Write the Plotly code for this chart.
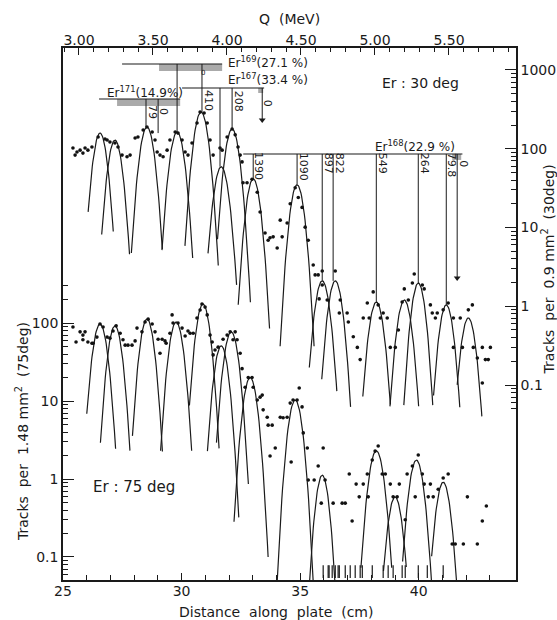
import numpy as np
import plotly.graph_objects as go

# ---------------- data ----------------
# Fitted peaks, Er 30 deg (right axis, tracks per 0.9 mm^2)
p30_center = [26.56, 27.19, 28.54, 29.81, 30.82, 31.67, 32.13, 33.02, 34.87, 35.93, 36.48, 38.21, 39.39, 39.98, 41.16, 42.09]
p30_height = [158, 129, 189, 163, 293, 59, 178, 41.5, 34.8, 2.1, 2.1, 1.13, 1.2, 1.97, 1.04, 0.71]
p30_width = [0.50, 0.51, 0.52, 0.52, 0.52, 0.53, 0.52, 0.50, 0.50, 0.52, 0.51, 0.52, 0.52, 0.49, 0.50, 0.51]
p30_depth_left = [1.0, 1.2, 1.6, 1.5, 1.7, 1.1, 1.4, 1.6, 2.05, 1.1, 1.25, 1.2, 1.35, 1.55, 1.15, 0.85]
p30_depth_right = [1.25, 1.45, 1.55, 1.6, 1.95, 1.5, 2.2, 1.9, 2.05, 1.4, 1.6, 1.3, 1.35, 1.55, 1.3, 1.25]

# Fitted peaks, Er 75 deg (left axis, tracks per 1.48 mm^2)
p75_center = [26.56, 27.19, 28.54, 29.77, 30.90, 31.67, 32.09, 32.89, 34.79, 35.93, 38.21, 39.00, 39.90, 41.03]
p75_height = [97, 92, 113, 103, 175, 51, 77, 20, 10.3, 1.12, 2.3, 0.59, 1.75, 0.91]
p75_width = [0.52, 0.50, 0.50, 0.51, 0.50, 0.50, 0.52, 0.50, 0.50, 0.46, 0.53, 0.50, 0.51, 0.50]
p75_depth_left = [1.15, 1.5, 1.5, 1.65, 1.3, 1.35, 1.42, 1.85, 2.5, 1.5, 1.5, 0.95, 1.3, 0.95]
p75_depth_right = [1.6, 1.6, 1.7, 1.65, 1.85, 2.2, 1.95, 2.3, 2.5, 1.5, 1.5, 0.9, 1.55, 1.3]

# Measured points, 30 deg
d30_x = [25.42, 25.59, 25.51, 25.72, 25.84, 25.93, 26.05, 26.22, 26.48, 26.77, 26.86, 26.98, 27.19, 27.32,
         27.49, 27.70, 27.83, 28.04, 28.16, 28.38, 28.54, 28.76, 28.88, 28.97, 29.09, 29.22, 29.39, 29.51,
         29.73, 29.85, 30.02, 30.15, 30.27, 30.44, 30.65, 30.78, 30.95, 31.08, 31.20, 31.33, 31.62, 31.71,
         31.92, 32.13, 32.26, 32.38, 32.47, 32.55, 32.59, 32.76, 32.97, 33.19, 33.31, 33.52, 33.65, 33.73,
         33.86, 34.03, 34.16, 34.24, 34.45, 34.58, 34.79, 34.92, 35.08, 35.21, 35.34,
         35.55, 35.63, 35.76, 35.93, 35.80, 35.93, 36.14, 36.48, 36.69, 36.65, 36.98, 37.03, 37.24, 37.41,
         37.53, 37.66, 37.83, 37.91, 38.08, 38.29, 38.38, 38.50, 38.67, 38.80, 39.01, 39.14, 39.30, 39.39,
         39.56, 39.73, 39.81, 40.15, 40.23, 40.49, 40.57, 40.70, 40.78, 41.03, 41.24, 41.46, 41.75, 41.46,
         41.84, 42.09, 42.26, 42.30, 42.47, 42.68, 42.81, 43.02, 42.93, 42.68]
d30_y = [102, 91, 83, 96, 88, 102, 96, 105, 141, 133, 129, 122, 118, 105,
         83, 79, 83, 137, 141, 173, 189, 163, 129, 91, 83, 79, 96, 129,
         163, 158, 129, 91, 83, 118, 212, 293, 284, 212, 129, 83, 102, 96,
         141, 178, 150, 105, 83, 68, 37, 37, 41, 28, 15.7, 8.5, 6.9, 7.4,
         7.6, 5.5, 12.4, 7.6, 11.4, 20, 32, 24, 18, 10.1, 6.9,
         3.34, 2.5, 2.5, 2.8, 1.24, 1.86, 1.2, 2.8, 1.2, 0.82, 0.82, 0.63, 0.41, 0.30,
         0.21, 0.71, 1.1, 0.71, 1.52, 1.04, 0.71, 0.82, 0.71, 0.30, 0.30, 0.5, 1.13, 1.66,
         1.2, 1.97, 2.57, 1.86, 1.66, 1.04, 0.82, 0.71, 0.82, 0.9, 1.1, 0.71, 0.71, 0.30,
         0.30, 0.9, 1.04, 0.30, 0.22, 0.30, 0.21, 0.30, 0.21, 0.106]

# Measured points, 75 deg
d75_x = [25.42, 25.55, 25.72, 25.84, 25.93, 25.84, 26.05, 26.22, 26.27, 26.43, 26.56, 26.69, 26.86, 26.98,
         27.11, 27.24, 27.41, 27.53, 27.62, 27.74, 27.91, 28.04, 28.12, 28.33, 28.46, 28.59, 28.76, 28.88,
         29.01, 29.18, 29.09, 29.30, 29.35, 29.51, 29.60, 29.64, 29.85, 30.02, 30.15, 30.27, 30.36, 30.49,
         30.65, 30.78, 30.86, 30.99, 31.08, 31.20, 31.29, 31.33, 31.41, 31.54, 31.75, 31.92, 32.05, 32.26,
         32.17, 32.34, 32.47, 32.55, 32.68, 32.81, 32.97, 33.02, 33.19, 33.31, 33.40, 33.44, 33.61, 33.65,
         33.82, 33.73, 33.95, 34.16, 34.28, 34.45, 34.62, 34.58, 34.70, 34.87, 34.96, 35.08, 35.13, 35.30,
         35.34, 35.59, 35.76, 35.97, 35.89, 36.05, 36.39, 36.77, 36.90, 37.07, 37.19, 37.36, 37.49, 37.66,
         37.83, 37.87, 38.04, 38.16, 38.29, 38.46, 38.59, 38.80, 38.92, 39.09, 39.18, 39.43, 39.51, 39.73,
         39.98, 39.85, 40.15, 40.23, 40.40, 40.49, 40.61, 40.82, 41.03, 41.24, 41.41, 41.54, 41.88, 42.05,
         42.47, 42.68, 42.85]
d75_y = [89, 57, 77, 70, 77, 61, 57, 55, 55, 66, 97, 89, 66, 64,
         79, 92, 74, 61, 52, 52, 52, 59, 86, 77, 103, 112, 97, 77,
         62, 62, 41, 59, 55, 74, 127, 100, 100, 86, 68, 79, 74, 74,
         116, 147, 175, 160, 127, 70, 57, 39, 45, 49, 62, 70, 77, 77,
         61, 61, 41, 26, 15, 20, 20, 15, 10.3, 11.2, 11.9, 7.7, 6.2, 4.9,
         4.9, 1.97, 2.5, 6.2, 6.1, 6.2, 1.65, 9.4, 10.3, 10.3, 14.7, 8.4, 3.9, 2.5,
         0.97, 0.97, 1.47, 2.5, 0.49, 0.97, 0.49, 0.49, 0.49, 1.16, 0.29, 0.86, 0.59, 0.86,
         1.16, 0.59, 1.75, 2.28, 2.65, 1.16, 1.16, 0.86, 0.59, 0.59, 0.86, 0.30, 1.16, 1.47,
         2.03, 0.59, 1.16, 0.86, 0.59, 0.86, 0.59, 0.74, 1.03, 1.16, 0.147, 0.147, 0.147, 0.59,
         0.147, 0.29, 0.45]

# Zero-count marks along the bottom (75 deg)
zero_x = [35.97, 36.18, 36.22, 36.35, 36.48, 36.60, 36.65, 36.90, 37.11, 37.32, 37.53, 37.62,
          38.04, 38.50, 38.71, 38.92, 39.30, 39.43, 39.98, 40.36, 41.03]
zero_level = 0.065

# Level markers (right-axis units): position, top (isotope bar), bottom (peak), label
lvl_x = [28.50, 29.01, 29.81, 30.86, 31.62, 32.13, 33.40, 33.02, 34.87, 35.93, 36.39, 38.21, 39.98, 41.16, 41.62]
lvl_top = [428, 428, 1191, 1191, 591, 591, 591, 85.8, 85.8, 85.8, 85.8, 85.8, 85.8, 85.8, 85.8]
lvl_bottom = [189, 158, 163, 293, 59, 178, 232, 41.5, 34.8, 2.1, 2.1, 1.13, 1.97, 1.04, 2.29]
lvl_text = ["79", "0", "", "410", "", "208", "0", "1390", "1090", "897", "822", "549", "264", "79.8", "0"]
lvl_text_y = [293, 301, 0, 404, 0, 404, 380, 60, 59, 66, 66, 66, 66, 62, 65]
lvl_arrow = [False, False, False, False, False, False, True, False, False, False, False, False, False, False, True]

# Isotope bars
iso_name = ["Er<sup>171</sup>(14.9%)", "Er<sup>169</sup>(27.1 %)", "Er<sup>167</sup>(33.4 %)", "Er<sup>168</sup>(22.9 %)"]
iso_bar_x0 = [26.52, 27.49, 30.02, 32.60]
iso_bar_x1 = [29.94, 31.71, 33.48, 41.84]
iso_bar_y = [428, 1191, 591, 85.8]
iso_shade_x0 = [27.28, 29.05, 33.23, 41.41]
iso_shade_x1 = [29.94, 31.71, 33.44, 41.79]
iso_shade_y0 = [349, 971, 510, 72]
iso_label_x = [28.45, 31.88, 31.88, 39.85]
iso_label_y = [525, 1263, 769, 108]

# Axis ticks
x_ticks = [25, 30, 35, 40]
x_minor = list(range(26, 44))
q_ticks = [3.0, 3.5, 4.0, 4.5, 5.0, 5.5]
q_labels = ["3.00", "3.50", "4.00", "4.50", "5.00", "5.50"]
q_minor = [round(3.0 + 0.1 * i, 1) for i in range(-1, 30)]
y75_ticks = [0.1, 1, 10, 100]
y75_labels = ["0.1", "1", "10", "100"]
y30_ticks = [0.1, 1, 10, 100, 1000]
y30_labels = ["0.1", "1", "10", "100", "1000"]

# ---------------- figure ----------------
LINE = "#1a1a1a"
FONT = "DejaVu Sans"


def peak_curves(centers, heights, widths, dl, dr):
    xs, ys = [], []
    for c, h, w, a, b in zip(centers, heights, widths, dl, dr):
        t = np.linspace(-np.sqrt(a), np.sqrt(b), 50)
        xs += list(c + t * w) + [None]
        ys += list(h * 10 ** (-t ** 2)) + [None]
    return xs, ys


fig = go.Figure()

cx, cy = peak_curves(p30_center, p30_height, p30_width, p30_depth_left, p30_depth_right)
fig.add_trace(go.Scatter(x=cx, y=cy, mode="lines", line=dict(color=LINE, width=1.2),
                         xaxis="x", yaxis="y2", hoverinfo="skip"))
cx, cy = peak_curves(p75_center, p75_height, p75_width, p75_depth_left, p75_depth_right)
fig.add_trace(go.Scatter(x=cx, y=cy, mode="lines", line=dict(color=LINE, width=1.2),
                         xaxis="x", yaxis="y", hoverinfo="skip"))

fig.add_trace(go.Scatter(x=d30_x, y=d30_y, mode="markers", marker=dict(color="#111", size=3.6),
                         xaxis="x", yaxis="y2"))
fig.add_trace(go.Scatter(x=d75_x, y=d75_y, mode="markers", marker=dict(color="#111", size=3.6),
                         xaxis="x", yaxis="y"))
fig.add_trace(go.Scatter(x=zero_x, y=[zero_level] * len(zero_x), mode="markers",
                         marker=dict(symbol="line-ns-open", size=9, color=LINE,
                                     line=dict(color=LINE, width=1.2)),
                         xaxis="x", yaxis="y"))

# isotope shaded blocks and bars
for i in range(len(iso_name)):
    fig.add_trace(go.Scatter(
        x=[iso_shade_x0[i], iso_shade_x1[i], iso_shade_x1[i], iso_shade_x0[i], iso_shade_x0[i]],
        y=[iso_shade_y0[i], iso_shade_y0[i], iso_bar_y[i], iso_bar_y[i], iso_shade_y0[i]],
        mode="lines", fill="toself", fillcolor="rgba(125,125,125,0.65)",
        line=dict(width=0), xaxis="x", yaxis="y2", hoverinfo="skip"))
    fig.add_trace(go.Scatter(x=[iso_bar_x0[i], iso_bar_x1[i]], y=[iso_bar_y[i], iso_bar_y[i]],
                             mode="lines", line=dict(color=LINE, width=1.1),
                             xaxis="x", yaxis="y2", hoverinfo="skip"))

# level lines
lx, ly = [], []
for x, t, b in zip(lvl_x, lvl_top, lvl_bottom):
    lx += [x, x, None]
    ly += [t, b, None]
fig.add_trace(go.Scatter(x=lx, y=ly, mode="lines", line=dict(color=LINE, width=1.0),
                         xaxis="x", yaxis="y2", hoverinfo="skip"))
ax_ = [x for x, a in zip(lvl_x, lvl_arrow) if a]
ay_ = [b for b, a in zip(lvl_bottom, lvl_arrow) if a]
fig.add_trace(go.Scatter(x=ax_, y=ay_, mode="markers",
                         marker=dict(symbol="triangle-down", size=6, color=LINE),
                         xaxis="x", yaxis="y2", hoverinfo="skip"))

# dummy trace so the top Q axis is drawn
fig.add_trace(go.Scatter(x=[q_ticks[0]], y=[1], mode="markers", marker=dict(opacity=0),
                         xaxis="x2", yaxis="y", hoverinfo="skip"))

annotations = []
for x, txt, yv in zip(lvl_x, lvl_text, lvl_text_y):
    if txt:
        annotations.append(dict(x=x, y=np.log10(yv), xref="x", yref="y2", text=txt, showarrow=False,
                                textangle=90, xshift=6, xanchor="center", yanchor="middle",
                                font=dict(size=11, color=LINE, family=FONT)))
annotations.append(dict(x=30.91, y=np.log10(916), xref="x", yref="y2", text="0", showarrow=False,
                        xanchor="center", yanchor="middle",
                        font=dict(size=7, color=LINE, family=FONT)))
anchors = ["center", "left", "left", "center"]
for i in range(len(iso_name)):
    annotations.append(dict(x=iso_label_x[i], y=np.log10(iso_label_y[i]), xref="x", yref="y2",
                            text=iso_name[i], showarrow=False, xanchor=anchors[i], yanchor="middle",
                            font=dict(size=12, color=LINE, family=FONT)))


def paper_text(x, y, text, size, angle=0):
    return dict(x=x, y=y, xref="paper", yref="paper", text=text, showarrow=False, textangle=angle,
                xanchor="center", yanchor="middle", font=dict(size=size, color=LINE, family=FONT))


annotations += [
    paper_text(0.501, 1.0545, "Q  (MeV)", 14),
    paper_text(0.47, -0.06, "Distance  along  plate  (cm)", 14),
    paper_text(-0.0905, 0.278, "Tracks  per  1.48 mm<sup>2</sup>  (75deg)", 14, -90),
    paper_text(1.07, 0.583, "Tracks  per  0.9 mm<sup>2</sup>  (30deg)", 14, -90),
    paper_text(0.79, 0.934, "Er : 30 deg", 14),
    paper_text(0.157, 0.175, "Er : 75 deg", 15),
]

axis_common = dict(showgrid=False, zeroline=False, showline=True, linecolor=LINE, linewidth=1.5,
                   automargin=False,
                   ticks="inside", tickcolor=LINE, tickfont=dict(size=14, color=LINE, family=FONT))

fig.update_layout(
    width=557, height=620, autosize=False,
    margin=dict(l=63, r=41, t=48, b=40),
    paper_bgcolor="white", plot_bgcolor="white",
    showlegend=False,
    font=dict(family=FONT, color=LINE),
    xaxis=dict(axis_common, range=[25, 44.1], tickmode="array", tickvals=x_ticks,
               ticktext=[str(v) for v in x_ticks], ticklen=7, tickwidth=1.2, ticklabelstandoff=-3,
               minor=dict(tickvals=x_minor, ticks="inside", ticklen=5, tickcolor=LINE, tickwidth=1.0)),
    xaxis2=dict(axis_common, overlaying="x", side="top", anchor="y", range=[2.892, 5.953],
                tickmode="array", tickvals=q_ticks, ticktext=q_labels, ticklen=7, tickwidth=1.2,
                ticklabelstandoff=-4,
                minor=dict(tickvals=q_minor, ticks="inside", ticklen=4, tickcolor=LINE, tickwidth=1.0)),
    yaxis=dict(axis_common, type="log", range=[-1.295, 5.526], tickmode="array", tickvals=y75_ticks,
               ticktext=y75_labels, ticklen=11, tickwidth=1.0,
               minor=dict(tickvals=[m * 10 ** e for e in range(-2, 3) for m in range(2, 10)
                                    if 0.045 < m * 10 ** e < 350],
                          ticks="inside", ticklen=5, tickcolor=LINE, tickwidth=1.0)),
    yaxis2=dict(axis_common, type="log", overlaying="y", side="right", anchor="x",
                range=[-3.476, 3.279], tickmode="array", tickvals=y30_ticks,
                ticktext=y30_labels, ticklen=11, tickwidth=1.0,
                minor=dict(tickvals=[m * 10 ** e for e in range(-2, 4) for m in range(2, 10)
                                     if 0.045 < m * 10 ** e < 1000],
                           ticks="inside", ticklen=5, tickcolor=LINE, tickwidth=1.0)),
    annotations=annotations,
)

fig.write_html("out.html")
